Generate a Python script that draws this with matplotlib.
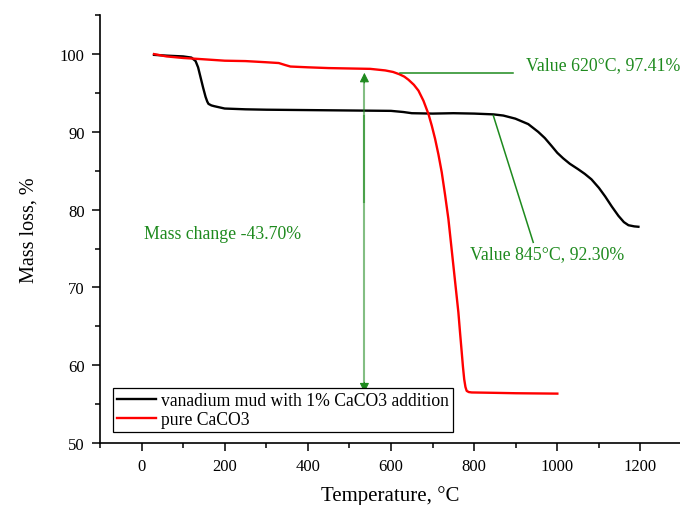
import matplotlib
matplotlib.use("Agg")
import matplotlib.pyplot as plt
from matplotlib.ticker import MultipleLocator

# ---- data ----
mud_T = [30, 60, 100, 120, 130, 136, 142, 148, 154, 158, 161, 168, 175, 200, 250, 300,
         400, 500, 600, 630, 650, 700, 750, 800, 846, 870, 899, 930, 954, 970, 986,
         1000, 1014, 1030, 1050, 1066, 1082, 1100, 1115, 1131, 1147, 1160, 1171, 1185,
         1195]
mud_m = [99.9, 99.8, 99.7, 99.55, 99.1, 98.3, 97.0, 95.7, 94.5, 93.9, 93.6, 93.4, 93.3,
         93.0, 92.9, 92.85, 92.8, 92.75, 92.7, 92.55, 92.4, 92.35, 92.4, 92.35, 92.25,
         92.1, 91.7, 91.0, 90.0, 89.2, 88.2, 87.3, 86.6, 85.9, 85.2, 84.6, 83.9, 82.8,
         81.7, 80.4, 79.2, 78.4, 78.0, 77.85, 77.8]

caco3_T = [30, 60, 100, 130, 200, 250, 300, 330, 345, 358, 400, 450, 500, 550, 586,
           605, 620, 632, 642, 655, 666, 678, 690, 698, 706, 714, 722, 730, 738, 744,
           750, 756, 762, 766, 770, 773, 776, 779, 782, 787, 794, 850, 900, 1000]
caco3_m = [100.0, 99.7, 99.5, 99.4, 99.15, 99.1, 98.95, 98.85, 98.6, 98.4, 98.3,
           98.2, 98.15, 98.1, 97.9, 97.7, 97.41, 97.1, 96.7, 96.05, 95.3, 94.0, 92.3,
           90.8, 89.1, 87.1, 84.8, 81.9, 78.8, 75.8, 72.8, 69.8, 66.8, 64.2, 61.7,
           59.8, 58.2, 57.2, 56.7, 56.55, 56.5, 56.45, 56.4, 56.35]

series_labels = ["vanadium mud with 1% CaCO3 addition", "pure CaCO3"]
ann_620 = "Value 620°C, 97.41%"
ann_845 = "Value 845°C, 92.30%"
ann_mass = "Mass change -43.70%"

plt.rcParams['font.family'] = ['Liberation Serif', 'DejaVu Serif']

fig = plt.figure(figsize=(6.8, 5.06), dpi=100)
ax = fig.add_axes([0.147, 0.1225, 0.853, 0.8455])

ax.plot(mud_T, mud_m, color='black', lw=1.7, label=series_labels[0],
        solid_joinstyle='round')
ax.plot(caco3_T, caco3_m, color='#ff0000', lw=1.7, label=series_labels[1],
        solid_joinstyle='round')

green = '#1e8a1e'
# annotation lines
ax.plot([622, 894], [97.55, 97.55], color=green, lw=1.1)
ax.plot([846, 942], [92.1, 75.8], color=green, lw=1.1)
# double arrow: two overlapping semi-transparent shafts + opaque heads
ax.plot([536, 536], [96.5, 81.0], color=green, alpha=0.55, lw=1.5)
ax.plot([536, 536], [92.0, 57.6], color=green, alpha=0.55, lw=1.5)
ax.annotate('', xy=(536, 97.6), xytext=(536, 96.3),
            arrowprops=dict(arrowstyle='-|>', color=green, lw=0.8,
                            mutation_scale=14, shrinkA=0, shrinkB=0))
ax.annotate('', xy=(536, 56.5), xytext=(536, 57.8),
            arrowprops=dict(arrowstyle='-|>', color=green, lw=0.8,
                            mutation_scale=14, shrinkA=0, shrinkB=0))

ax.text(925, 98.7, ann_620, color=green, fontsize=12.8, va='center', ha='left')
ax.text(791, 74.4, ann_845, color=green, fontsize=12.8, va='center', ha='left')
ax.text(5, 76.9, ann_mass, color=green, fontsize=12.8, va='center', ha='left')

ax.set_xlim(-100, 1295)
ax.set_ylim(50, 105)
ax.xaxis.set_minor_locator(MultipleLocator(100))
ax.yaxis.set_minor_locator(MultipleLocator(5))
ax.set_xticks([0, 200, 400, 600, 800, 1000, 1200])
ax.set_yticks([50, 60, 70, 80, 90, 100])

ax.tick_params(which='major', direction='out', length=6, width=1.1, labelsize=12, pad=5)
ax.tick_params(which='minor', direction='out', length=3.5, width=1.1)
for s in ['top', 'right']:
    ax.spines[s].set_visible(False)
for s in ['left', 'bottom']:
    ax.spines[s].set_linewidth(1.2)

ax.set_xlabel("Temperature, °C", fontsize=15, labelpad=8)
ax.set_ylabel("Mass loss, %", fontsize=14.5, labelpad=15)

leg = ax.legend(loc='lower left', bbox_to_anchor=(0.0224, 0.0257), borderaxespad=0,
                fontsize=12.7, frameon=True, fancybox=False, edgecolor='black',
                framealpha=1, handlelength=2.2, handletextpad=0.3,
                labelspacing=0.12, borderpad=0.22)
leg.get_frame().set_linewidth(0.9)

fig.savefig("out.png", dpi=100)
